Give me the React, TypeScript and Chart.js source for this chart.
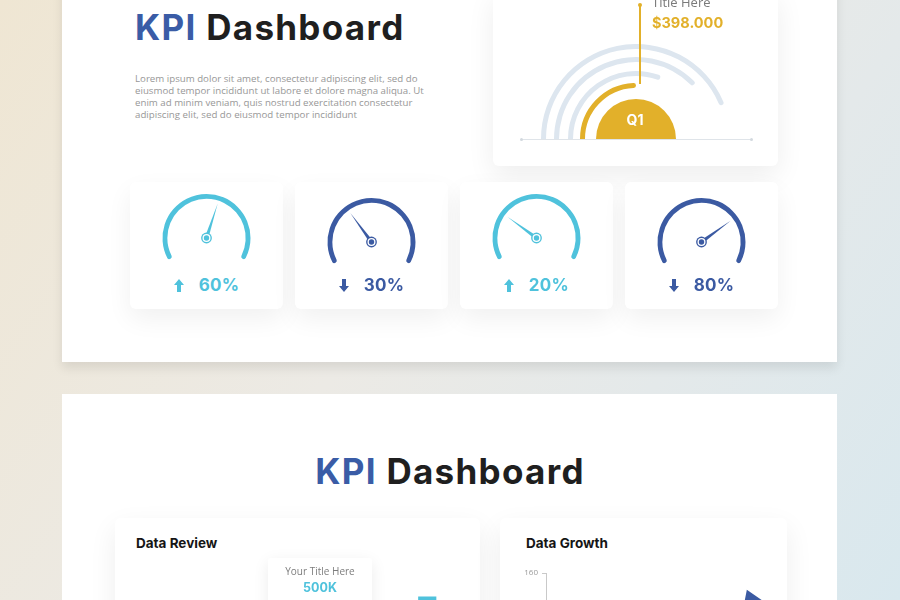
import React, { useEffect, useRef } from "react";
import { Chart, registerables } from "chart.js";

Chart.register(...registerables);

// ---------- data ----------
const quarterLabels = ["Q4", "Q3", "Q2", "Q1"]; // outer ring -> inner ring
const quarterValues = [88, 76, 62, 50]; // percent of the half circle
const quarterTitle = "Title Here";
const quarterAmount = "$398.000";

const introLines = [
  "Lorem ipsum dolor sit amet, consectetur adipiscing elit, sed do",
  "eiusmod tempor incididunt ut labore et dolore magna aliqua. Ut",
  "enim ad minim veniam, quis nostrud exercitation consectetur",
  "adipiscing elit, sed do eiusmod tempor incididunt",
];

const gaugeValues = [60, 30, 20, 80];
const gaugeTrend = ["up", "down", "up", "down"];

const reviewLabels = ["Jan", "Feb", "Mar", "Apr", "May", "Jun"];
const reviewValues = [48, 66, 40, 78, 58, 89];
const reviewTipTitle = "Your Title Here";
const reviewTipValue = "500K";

const growthLabels = ["2015", "2016", "2017", "2018", "2019", "2020", "2021"];
const growthValues = [60, 85, 70, 110, 40, 151, 136];
const growthMax = 160;
const growthStep = 20;

// ---------- style ----------
const CYAN = "#4fc2dc";
const NAVY = "#3b5aa2";
const GOLD = "#e2b02a";
const RING = "#dde6ef";
const HEAD = "Inter, 'Open Sans', sans-serif";
const BODY = "'Open Sans', 'Noto Sans', sans-serif";
const CLEAR = "rgba(0,0,0,0)";

function useChart(build: () => any) {
  const ref = useRef<HTMLCanvasElement>(null);
  useEffect(() => {
    const chart = new Chart(ref.current as HTMLCanvasElement, build());
    return () => chart.destroy();
  }, []);
  return ref;
}

function QuarterChart() {
  const ref = useChart(() => {
    const gaps = [8, 9, 7, 11];
    const datasets: any[] = [];
    quarterValues.forEach((v, i) => {
      const isLast = i === quarterValues.length - 1;
      datasets.push({
        label: quarterLabels[i],
        data: [v, 100 - v],
        backgroundColor: [isLast ? GOLD : RING, CLEAR],
        borderWidth: 0,
        borderRadius: { outerStart: 0, innerStart: 0, outerEnd: 2.5, innerEnd: 2.5 },
        weight: 5,
      });
      datasets.push({ label: "", data: [1], backgroundColor: [CLEAR], borderWidth: 0, weight: gaps[i] });
    });
    datasets.push({
      label: quarterLabels[quarterLabels.length - 1],
      data: [100],
      backgroundColor: [GOLD],
      borderWidth: 0,
      weight: 40,
    });
    const discLabel = {
      id: "discLabel",
      afterDatasetsDraw(chart: any) {
        const meta = chart.getDatasetMeta(chart.data.datasets.length - 1);
        const arc = meta.data[0];
        const ctx = chart.ctx;
        ctx.save();
        ctx.fillStyle = "#ffffff";
        ctx.font = "700 14px " + HEAD;
        ctx.textAlign = "center";
        ctx.textBaseline = "alphabetic";
        ctx.fillText(chart.data.datasets[chart.data.datasets.length - 1].label, arc.x - 1, arc.y - 14);
        ctx.restore();
      },
    };
    return {
      type: "doughnut",
      data: { labels: ["value", "rest"], datasets },
      options: {
        responsive: false,
        animation: false,
        events: [],
        rotation: -90,
        circumference: 180,
        cutout: 0,
        layout: { padding: 0 },
        plugins: { legend: { display: false }, tooltip: { enabled: false } },
      },
      plugins: [discLabel],
    };
  });
  return (
    <canvas
      ref={ref}
      width={190}
      height={95}
      style={{ position: "absolute", left: 541, top: 44, width: 190, height: 95 }}
    />
  );
}

function Gauge({ value, color }: { value: number; color: string }) {
  const ref = useChart(() => {
    const needle = {
      id: "needle",
      afterDatasetsDraw(chart: any) {
        const arc = chart.getDatasetMeta(0).data[0];
        const cx = arc.x;
        const cy = arc.y;
        const ctx = chart.ctx;
        const a = ((-90 + value * 1.8 - 90) * Math.PI) / 180;
        const L = 36;
        const w = 1.9;
        const tx = cx + L * Math.cos(a);
        const ty = cy + L * Math.sin(a);
        const px = -Math.sin(a) * w;
        const py = Math.cos(a) * w;
        ctx.save();
        ctx.fillStyle = color;
        ctx.beginPath();
        ctx.moveTo(cx + px, cy + py);
        ctx.lineTo(tx, ty);
        ctx.lineTo(cx - px, cy - py);
        ctx.closePath();
        ctx.fill();
        ctx.beginPath();
        ctx.arc(cx, cy, 5.4, 0, Math.PI * 2);
        ctx.fill();
        ctx.fillStyle = "#ffffff";
        ctx.beginPath();
        ctx.arc(cx, cy, 4, 0, Math.PI * 2);
        ctx.fill();
        ctx.fillStyle = color;
        ctx.beginPath();
        ctx.arc(cx, cy, 2.7, 0, Math.PI * 2);
        ctx.fill();
        ctx.restore();
      },
    };
    return {
      type: "doughnut",
      data: {
        labels: ["gauge"],
        datasets: [{ data: [100], backgroundColor: [color], borderWidth: 0, borderRadius: 2.4 }],
      },
      options: {
        responsive: false,
        animation: false,
        events: [],
        rotation: -120,
        circumference: 240,
        cutout: "89%",
        radius: 44,
        plugins: { legend: { display: false }, tooltip: { enabled: false } },
      },
      plugins: [needle],
    };
  });
  return <canvas ref={ref} width={153} height={90} style={{ position: "absolute", left: 0, top: 0, width: 153, height: 90 }} />;
}

function Arrow({ up, color }: { up: boolean; color: string }) {
  return (
    <svg width={10} height={13} viewBox="0 0 10 13" style={{ display: "block", transform: up ? "none" : "rotate(180deg)" }}>
      <path d="M5 0 L10 6 L7 6 L7 13 L3 13 L3 6 L0 6 Z" fill={color} />
    </svg>
  );
}

function GaugeCard({ index }: { index: number }) {
  const lefts = [130, 295, 460, 625];
  const up = gaugeTrend[index] === "up";
  const color = up ? CYAN : NAVY;
  return (
    <div
      style={{
        position: "absolute",
        left: lefts[index],
        top: 182,
        width: 153,
        height: 127,
        background: "#fff",
        borderRadius: 6,
        boxShadow: "0 10px 26px rgba(0,0,0,0.06)",
      }}
    >
      <div style={{ position: "absolute", left: 0, top: up ? 0 : 4, width: 153, height: 90 }}>
        <Gauge value={gaugeValues[index]} color={color} />
      </div>
      <div
        style={{
          position: "absolute",
          left: 0,
          top: 95,
          width: 153,
          height: 17,
          display: "flex",
          justifyContent: "center",
          alignItems: "center",
          gap: 15,
        }}
      >
        <Arrow up={up} color={color} />
        <span style={{ font: `700 17px ${HEAD}`, lineHeight: "17px", color, letterSpacing: 0.3 }}>
          {gaugeValues[index]}%
        </span>
      </div>
    </div>
  );
}

function ReviewChart() {
  const ref = useChart(() => ({
    type: "bar",
    data: {
      labels: reviewLabels,
      datasets: [
        {
          data: reviewValues,
          backgroundColor: reviewValues.map((_, i) => (i % 2 === 1 ? CYAN : NAVY)),
          borderWidth: 0,
          categoryPercentage: 1,
          barPercentage: 0.34,
        },
      ],
    },
    options: {
      responsive: false,
      animation: false,
      events: [],
      layout: { padding: { left: 18, right: 26, top: 10, bottom: 0 } },
      scales: {
        x: { display: false },
        y: { display: false, min: 0, max: 100 },
      },
      plugins: { legend: { display: false }, tooltip: { enabled: false } },
    },
  }));
  return <canvas ref={ref} width={365} height={250} style={{ position: "absolute", left: 115, top: 560, width: 365, height: 250 }} />;
}

function GrowthChart() {
  const ref = useChart(() => ({
    type: "line",
    data: {
      labels: growthLabels,
      datasets: [
        {
          data: growthValues,
          fill: "origin",
          backgroundColor: NAVY,
          borderColor: NAVY,
          borderWidth: 0,
          pointRadius: 0,
          tension: 0,
        },
      ],
    },
    options: {
      responsive: false,
      animation: false,
      events: [],
      layout: { padding: { left: 18, right: 0, top: 13, bottom: 10 } },
      scales: {
        x: { display: false },
        y: {
          min: 0,
          max: growthMax,
          ticks: { stepSize: growthStep, color: "#9a9a9a", padding: 4, font: { size: 8, family: BODY } },
          grid: { drawOnChartArea: false, tickLength: 4, color: "#c9c9c9" },
          border: { color: "#c9c9c9" },
          afterFit(s: any) {
            s.width = 28;
          },
        },
      },
      plugins: { legend: { display: false }, tooltip: { enabled: false } },
    },
  }));
  return <canvas ref={ref} width={287} height={320} style={{ position: "absolute", left: 500, top: 560, width: 287, height: 320 }} />;
}

const titleStyle = {
  font: `700 35px ${HEAD}`,
  lineHeight: "35px",
  letterSpacing: "1.3px",
  whiteSpace: "nowrap" as const,
  color: "#1f1f1f",
};

export default function App() {
  const card = {
    position: "absolute" as const,
    background: "#fff",
    borderRadius: 6,
    boxShadow: "0 10px 28px rgba(0,0,0,0.07)",
  };
  return (
    <div
      style={{
        position: "fixed",
        left: 0,
        top: 0,
        width: 900,
        height: 600,
        overflow: "hidden",
        background: "linear-gradient(125deg, #efe6d3 0%, #eceae5 45%, #e4e9ea 70%, #d9e8ee 100%)",
        fontFamily: BODY,
      }}
    >
      {/* top panel */}
      <div
        style={{
          position: "absolute",
          left: 62,
          top: -20,
          width: 775,
          height: 382,
          background: "#fff",
          boxShadow: "0 6px 10px rgba(0,0,0,0.09)",
        }}
      />
      <div style={{ position: "absolute", left: 135, top: 10, ...titleStyle }}>
        <span style={{ color: "#3a5ca6" }}>KPI</span> Dashboard
      </div>
      {introLines.map((line, i) => (
        <div
          key={i}
          style={{
            position: "absolute",
            left: 135,
            top: 73 + i * 12,
            height: 12,
            fontSize: 9.7,
            lineHeight: "12px",
            color: "#979797",
            whiteSpace: "nowrap",
          }}
        >
          {line}
        </div>
      ))}

      {/* quarter card */}
      <div style={{ ...card, left: 493, top: -10, width: 285, height: 176 }} />
      <div style={{ position: "absolute", left: 521, top: 138.5, width: 231, height: 1, background: "#dfe4e9" }} />
      <div style={{ position: "absolute", left: 520, top: 137.5, width: 3, height: 3, borderRadius: 2, background: "#d3d9df" }} />
      <div style={{ position: "absolute", left: 750, top: 137.5, width: 3, height: 3, borderRadius: 2, background: "#d3d9df" }} />
      <QuarterChart />
      <div style={{ position: "absolute", left: 639, top: 5, width: 1.5, height: 79, background: GOLD }} />
      <div style={{ position: "absolute", left: 637.7, top: 2.7, width: 4, height: 4, borderRadius: 2, background: GOLD }} />
      <div
        style={{
          position: "absolute",
          left: 652,
          top: -4.3,
          fontSize: 13,
          lineHeight: "13px",
          color: "#7a7a7a",
          whiteSpace: "nowrap",
        }}
      >
        {quarterTitle}
      </div>
      <div
        style={{
          position: "absolute",
          left: 652,
          top: 15.6,
          font: `700 14.5px ${HEAD}`,
          lineHeight: "14.5px",
          color: GOLD,
          whiteSpace: "nowrap",
        }}
      >
        {quarterAmount}
      </div>

      {gaugeValues.map((_, i) => (
        <GaugeCard key={i} index={i} />
      ))}

      {/* bottom panel */}
      <div style={{ position: "absolute", left: 62, top: 394, width: 775, height: 300, background: "#fff" }} />
      <div style={{ position: "absolute", left: 0, width: 900, top: 454, textAlign: "center", ...titleStyle }}>
        <span style={{ color: "#3a5ca6" }}>KPI</span> Dashboard
      </div>

      <div style={{ ...card, left: 115, top: 518, width: 365, height: 200 }} />
      <div style={{ ...card, left: 500, top: 518, width: 287, height: 200 }} />
      <div
        style={{
          position: "absolute",
          left: 136,
          top: 537.3,
          font: `700 13.5px ${HEAD}`,
          lineHeight: "13.5px",
          color: "#151515",
          whiteSpace: "nowrap",
        }}
      >
        Data Review
      </div>
      <div
        style={{
          position: "absolute",
          left: 526,
          top: 537.3,
          font: `700 13.5px ${HEAD}`,
          lineHeight: "13.5px",
          color: "#151515",
          whiteSpace: "nowrap",
        }}
      >
        Data Growth
      </div>
      <ReviewChart />
      <GrowthChart />
      <div
        style={{
          position: "absolute",
          left: 268,
          top: 558,
          width: 104,
          height: 70,
          background: "#fff",
          borderRadius: 3,
          boxShadow: "0 4px 16px rgba(0,0,0,0.08)",
        }}
      >
        <div
          style={{
            position: "absolute",
            left: 0,
            width: 104,
            top: 8.1,
            textAlign: "center",
            fontSize: 10,
            lineHeight: "10px",
            color: "#7d7d7d",
            whiteSpace: "nowrap",
          }}
        >
          {reviewTipTitle}
        </div>
        <div
          style={{
            position: "absolute",
            left: 0,
            width: 104,
            top: 23.5,
            textAlign: "center",
            font: `700 12.5px ${HEAD}`,
            lineHeight: "12.5px",
            color: CYAN,
            whiteSpace: "nowrap",
          }}
        >
          {reviewTipValue}
        </div>
      </div>
    </div>
  );
}
